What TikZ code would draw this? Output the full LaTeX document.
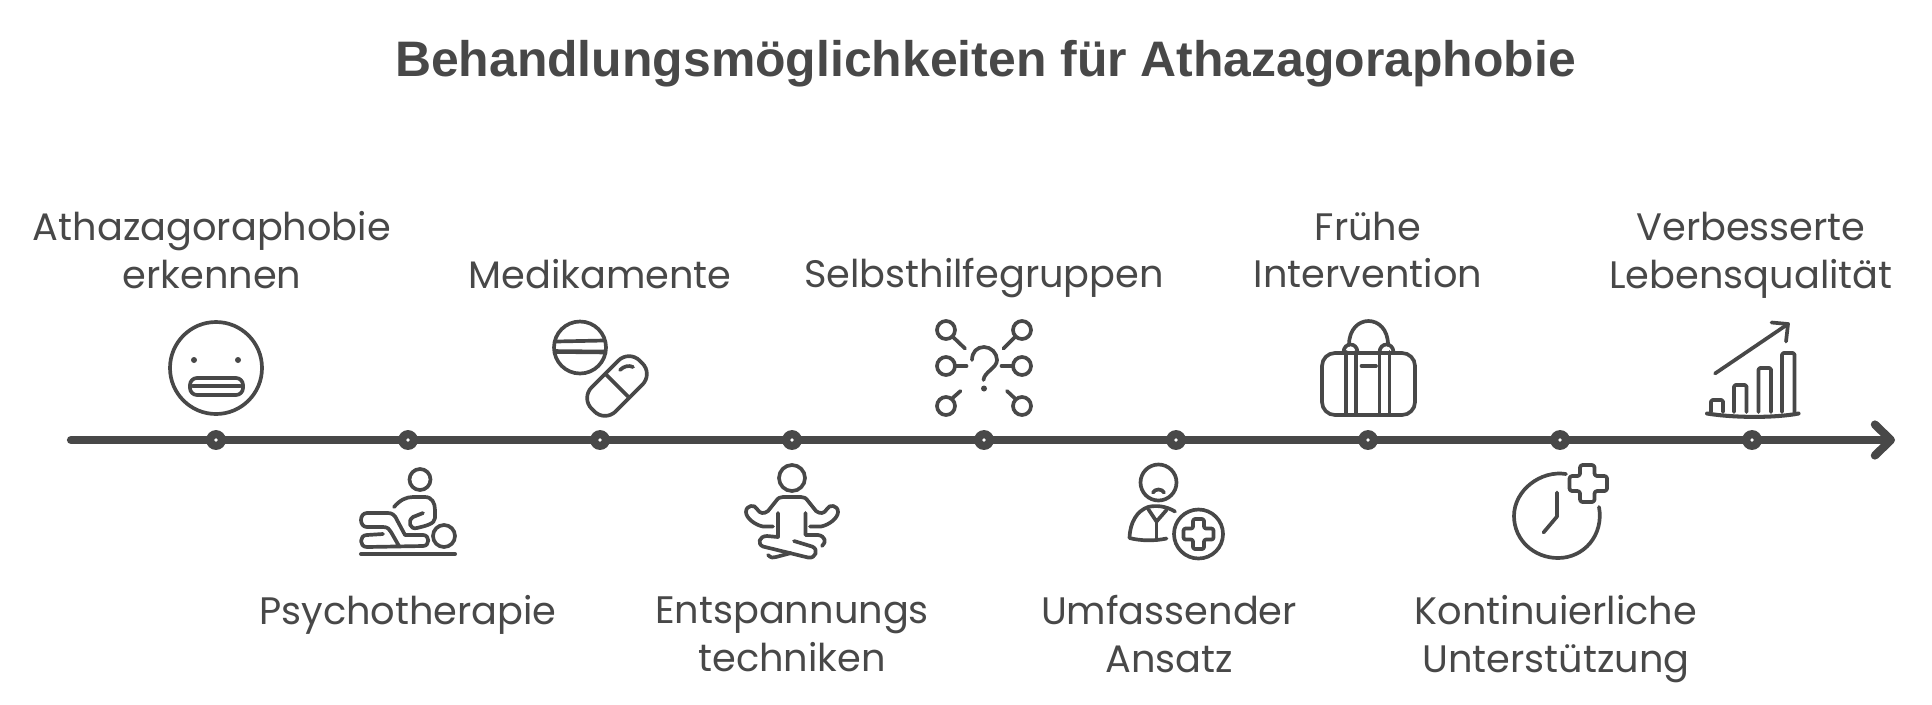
\documentclass[tikz,border=0pt]{standalone}
\usepackage{fontspec}
\setmainfont{Poppins}
\newfontfamily\titlefont{Liberation Sans}
\usetikzlibrary{arrows.meta}
\definecolor{inkgray}{HTML}{484848}

\begin{document}
\begin{tikzpicture}[x=0.02cm,y=-0.02cm,>={Straight Barb[length=0.32cm,width=0.62cm,round]},
    icon/.style={draw=inkgray,line width=2.1pt,line cap=round,line join=round},
    axisline/.style={draw=inkgray,line width=4.7pt,line cap=round},
    tick/.style={circle,draw=inkgray,fill=white,line width=4.65pt,minimum size=0.232cm,inner sep=0pt,outer sep=0pt},
    label/.style={text=inkgray,align=center,font=\fontsize{21.8}{27.2}\selectfont},
    heading/.style={text=inkgray,font=\titlefont\bfseries\fontsize{28.4}{34}\selectfont}]
    \useasboundingbox (0,0) rectangle (1932,704);

    \node [heading] (title) at (985.5, 64) {Behandlungsmöglichkeiten für Athazagoraphobie};

    % timeline
    \coordinate (axisstart) at (71, 440);
    \coordinate (axisend) at (1895, 440);
    \draw [->, axisline] (axisstart) -- (axisend);
    \node [tick] (t1) at (216, 440) {};
    \node [tick] (t2) at (408, 440) {};
    \node [tick] (t3) at (600, 440) {};
    \node [tick] (t4) at (792, 440) {};
    \node [tick] (t5) at (984, 440) {};
    \node [tick] (t6) at (1176, 440) {};
    \node [tick] (t7) at (1368, 440) {};
    \node [tick] (t8) at (1560, 440) {};
    \node [tick] (t9) at (1752, 440) {};

    % upper labels
    \node [label] (l1) at (212, 250) {Athazagoraphobie\\erkennen};
    \node [label] (l3) at (600, 274) {Medikamente};
    \node [label] (l5) at (984, 278) {Selbsthilfegruppen};
    \node [label] (l7) at (1368, 250) {Frühe\\Intervention};
    \node [label] (l9) at (1751, 255) {Verbesserte\\Lebensqualität};
    % lower labels
    \node [label] (l2) at (408, 615) {Psychotherapie};
    \node [label] (l4) at (792, 634) {Entspannungs\\techniken};
    \node [label] (l6) at (1169, 634) {Umfassender\\Ansatz};
    \node [label] (l8) at (1556, 639) {Kontinuierliche\\Unterstützung};

    % face
    \draw [icon] (216, 368) circle (46);
    \fill [inkgray] (194, 360) circle (3);
    \fill [inkgray] (238, 360) circle (3);
    \draw [icon, rounded corners=0.14cm] (190, 378) rectangle (243, 395);
    \draw [icon, line width=2.4pt] (193, 386) -- (240, 386);

    % massage
    \draw [icon] (420, 479.5) circle (10.5);
    \draw [icon] (394, 507) .. controls (400, 500) and (406, 497) .. (413, 497) -- (425, 497)
        .. controls (432, 497) and (435, 503) .. (435, 510) -- (435, 518)
        .. controls (435, 524) and (425, 526) .. (417, 528)
        .. controls (410, 530) and (407, 521) .. (413, 517) -- (423, 513);
    \draw [icon] (383, 534) -- (367, 535) .. controls (359, 535) and (359, 547) .. (367, 547)
        -- (423, 546) .. controls (430, 546) and (430, 535) .. (423, 535) -- (405, 535)
        -- (397, 520) .. controls (395, 515) and (392, 513) .. (388, 513) -- (367, 513)
        .. controls (359, 513) and (359, 527) .. (367, 527) -- (383, 527)
        .. controls (388, 527) and (389, 529) .. (391, 532) -- (399, 546);
    \draw [icon] (444, 536) circle (11);
    \draw [icon, line width=2.3pt] (361, 554) -- (455, 554);

    % pills
    \draw [icon] (580, 347.5) circle (26);
    \draw [icon] (556, 341.5) -- (604, 340.5);
    \draw [icon, line width=2.6pt] (556, 351.5) -- (604, 352);
    \begin{scope}[shift={(617, 386)}, rotate=45]
        \draw [icon, rounded corners=0.3cm] (-34,-17) rectangle (34, 17);
    \end{scope}
    \draw [icon] (606, 374.5) -- (629, 397.5);
    \draw [icon] (620, 370) .. controls (624, 366) and (629, 365) .. (633, 367);

    % meditation
    \draw [icon] (792, 478) circle (13);
    \draw [icon] (773, 526.5) -- (763, 526.5) .. controls (755, 525) and (746, 518) .. (746, 512)
        .. controls (746, 505) and (755, 504) .. (757, 509)
        .. controls (760, 514) and (764, 514) .. (768, 511)
        -- (776, 501) .. controls (778, 498) and (780, 497) .. (783, 497) -- (801, 497)
        .. controls (804, 497) and (806, 498) .. (808, 501)
        -- (816, 511) .. controls (820, 514) and (824, 514) .. (827, 509)
        .. controls (829, 504) and (838, 505) .. (838, 512)
        .. controls (838, 518) and (829, 525) .. (821, 526.5) -- (810, 526.5);
    \draw [icon] (778, 513) -- (778, 537) -- (767, 536)
        .. controls (759, 536) and (757, 544) .. (763, 546.5)
        -- (808, 557.5) .. controls (816, 559) and (819, 549) .. (812, 546.5) -- (794, 541);
    \draw [icon] (805.5, 513) -- (805.5, 535) -- (818, 535)
        .. controls (825, 536) and (827, 542) .. (822, 546);
    \draw [icon] (768, 555) .. controls (771, 558) and (773, 558) .. (776, 557) -- (791, 553);

    % question
    \draw [icon] (946, 330) circle (9);
    \draw [icon] (1022, 330) circle (9);
    \draw [icon] (946, 366) circle (9);
    \draw [icon] (1022, 366) circle (9);
    \draw [icon] (946, 406) circle (9);
    \draw [icon] (1022, 406) circle (9);
    \draw [icon] (953, 337) -- (965, 348.5);
    \draw [icon] (1015, 337) -- (1003.5, 348.5);
    \draw [icon] (955, 366) -- (966.5, 366);
    \draw [icon] (1013, 366) -- (1001.5, 366);
    \draw [icon] (952, 398.5) -- (960.5, 391);
    \draw [icon] (1015, 398.5) -- (1007, 391);
    \draw [icon] (972, 360) .. controls (972, 352) and (977, 347) .. (984, 347)
        .. controls (991, 347) and (997, 353) .. (997, 360)
        .. controls (997, 368) and (984, 372) .. (983.5, 380);
    \fill [inkgray] (984, 388.5) circle (3);

    % person
    \draw [icon] (1158.5, 482.5) circle (18);
    \draw [icon] (1153, 492.5) .. controls (1155, 488.5) and (1162, 488.5) .. (1164, 492.5);
    \draw [icon] (1175, 511.5) .. controls (1166, 506) and (1156, 505) .. (1148, 507)
        .. controls (1137, 511) and (1130, 522) .. (1129.5, 538)
        .. controls (1141, 541) and (1155, 541) .. (1166.5, 538.5);
    \draw [icon] (1148.5, 509.5) -- (1156.5, 521.5) -- (1166.5, 510);
    \draw [icon] (1156.5, 521.5) -- (1156.5, 538.5);
    \draw [icon] (1198.5, 534) circle (24.5);
    \draw [icon, rounded corners=0.04cm] (1193, 519) -- (1204, 519) -- (1204, 528.5) -- (1213.5, 528.5)
        -- (1213.5, 539.5) -- (1204, 539.5) -- (1204, 549) -- (1193, 549) -- (1193, 539.5)
        -- (1183.5, 539.5) -- (1183.5, 528.5) -- (1193, 528.5) -- cycle;

    % bag
    \draw [icon, rounded corners=0.26cm] (1322, 353) rectangle (1415, 415);
    \draw [icon] (1349, 345) .. controls (1349, 313) and (1388, 313) .. (1388, 345);
    \draw [icon] (1343.5, 352) .. controls (1344, 342) and (1357, 342) .. (1357.5, 352);
    \draw [icon] (1379.5, 352) .. controls (1380, 342) and (1393, 342) .. (1393.5, 352);
    \draw [icon] (1346, 352) -- (1346, 413);
    \draw [icon] (1356, 352) -- (1356, 413);
    \draw [icon] (1379.5, 352) -- (1379.5, 413);
    \draw [icon] (1389.5, 352) -- (1389.5, 413);
    \draw [icon] (1361.5, 366) -- (1376, 366);

    % clock
    \draw [icon] (1566, 474) .. controls (1541, 470) and (1514, 490) .. (1514, 516)
        .. controls (1514, 540) and (1534, 558) .. (1558, 558)
        .. controls (1584, 558) and (1604, 535) .. (1599, 507);
    \draw [icon] (1557, 492.5) -- (1557, 516.5) -- (1543.5, 532.5);
    \draw [icon, rounded corners=0.05cm] (1580, 465) -- (1594.5, 465) -- (1594.5, 476) -- (1607, 476)
        -- (1607, 491) -- (1594.5, 491) -- (1594.5, 502) -- (1580, 502) -- (1580, 491)
        -- (1569.5, 491) -- (1569.5, 476) -- (1580, 476) -- cycle;

    % chart
    \draw [icon, line width=2.3pt] (1707, 413.5) .. controls (1735, 418) and (1775, 418) .. (1798.5, 413.5);
    \draw [icon, rounded corners=0.03cm] (1711, 412) -- (1711, 400) -- (1723, 400) -- (1723, 412);
    \draw [icon, rounded corners=0.03cm] (1734, 412) -- (1734, 385) -- (1746.5, 385) -- (1746.5, 412);
    \draw [icon, rounded corners=0.03cm] (1758.5, 412) -- (1758.5, 368) -- (1771, 368) -- (1771, 412);
    \draw [icon, rounded corners=0.03cm] (1782, 412) -- (1782, 353) -- (1794.5, 353) -- (1794.5, 412);
    \draw [icon] (1715, 373.5) -- (1788, 324);
    \draw [icon] (1771.5, 322.5) -- (1788, 324) -- (1786, 341.5);
\end{tikzpicture}
\end{document}
